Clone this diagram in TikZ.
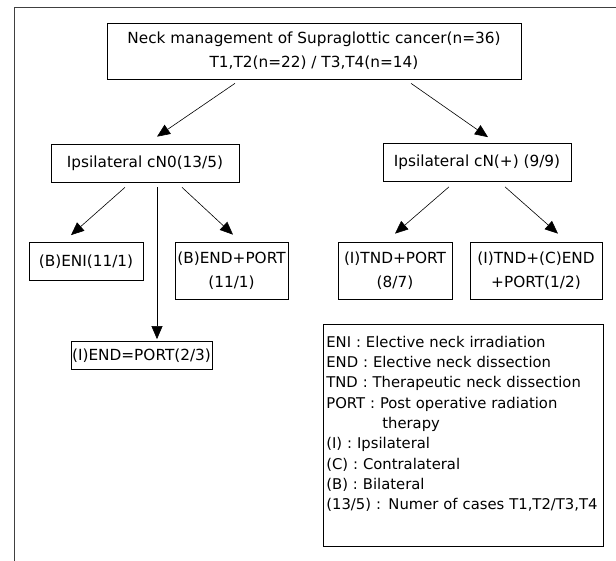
\documentclass[tikz,border=0pt]{standalone}
\usepackage{fontspec}
\setmainfont{DejaVu Sans}
\usetikzlibrary{arrows.meta}
\tikzset{
    box/.style={
        rectangle,
        draw=black,
        line width=0.7pt,
        inner sep=0pt,
        align=center,
        font=\fontsize{15.3}{24}\selectfont,
    },
    boxone/.style={
        box,
        minimum height=38pt,
    },
    boxtwo/.style={
        box,
        minimum height=57pt,
    },
    legend/.style={
        rectangle,
        draw=black,
        line width=0.7pt,
        align=left,
        anchor=north west,
        inner xsep=3pt,
        inner ysep=4pt,
        text width=274pt,
        text height=19pt,
        text depth=195pt,
        font=\fontsize{14.8}{20.3}\selectfont,
    },
    link/.style={
        ->,
        line width=0.6pt,
    }
}

\begin{document}
\begin{tikzpicture}[x=1pt,y=-1pt,>={Triangle[length=13pt,width=11pt]}]
    \useasboundingbox (0,0) rectangle (616,561);
    \draw[line width=0.9pt,black!75] (14,561) -- (14,7) -- (616,7);

    \node [box,minimum width=414pt,minimum height=56pt] (title) at (314,51)
        {Neck management of Supraglottic cancer(n=36)\\T1,T2(n=22) / T3,T4(n=14)};
    \node [boxone,minimum width=188pt] (cnzero) at (145,163) {Ipsilateral cN0(13/5)};
    \node [boxone,minimum width=188pt] (cnplus) at (477,162.5) {Ipsilateral cN(+) (9/9)};
    \node [boxone,minimum width=114pt] (eni) at (86,261.5) {(B)ENI(11/1)};
    \node [boxtwo,minimum width=113pt] (endport) at (231.5,270.5) {(B)END+PORT\\(11/1)};
    \node [box,minimum width=141pt,minimum height=28pt] (endeq) at (141.5,355.5) {(I)END=PORT(2/3)};
    \node [boxtwo,minimum width=114pt] (tndport) at (395,270.5) {(I)TND+PORT\\(8/7)};
    \node [boxtwo,minimum width=132pt] (tndend) at (536,270.5) {(I)TND+(C)END\\+PORT(1/2)};

    \node [legend] (key) at (323,324) {ENI : Elective neck irradiation\\
        END : Elective neck dissection\\
        TND : Therapeutic neck dissection\\
        PORT : Post operative radiation\\
        \hspace*{56pt}therapy\\
        (I) : Ipsilateral\\
        (C) : Contralateral\\
        (B) : Bilateral\\
        (13/5) : Numer of cases T1,T2/T3,T4};

    \draw[link] ([xshift=-79pt,yshift=-4pt]title.south) -- ([xshift=12pt,yshift=7pt]cnzero.north);
    \draw[link] ([xshift=97pt,yshift=-4pt]title.south) -- ([xshift=11pt,yshift=6pt]cnplus.north);
    \draw[link] ([xshift=-20pt,yshift=-5pt]cnzero.south) -- ([xshift=-15pt,yshift=7pt]eni.north);
    \draw[link] ([xshift=12pt,yshift=-5pt]cnzero.south) -- ([xshift=15.5pt,yshift=2pt]endeq.north);
    \draw[link] ([xshift=37pt,yshift=-5pt]cnzero.south) -- ([xshift=1.5pt,yshift=7pt]endport.north);
    \draw[link] ([xshift=-28pt,yshift=-5pt]cnplus.south) -- ([yshift=8pt]tndport.north);
    \draw[link] ([xshift=28pt,yshift=-5pt]cnplus.south) -- ([xshift=22pt,yshift=8pt]tndend.north);
\end{tikzpicture}
\end{document}
